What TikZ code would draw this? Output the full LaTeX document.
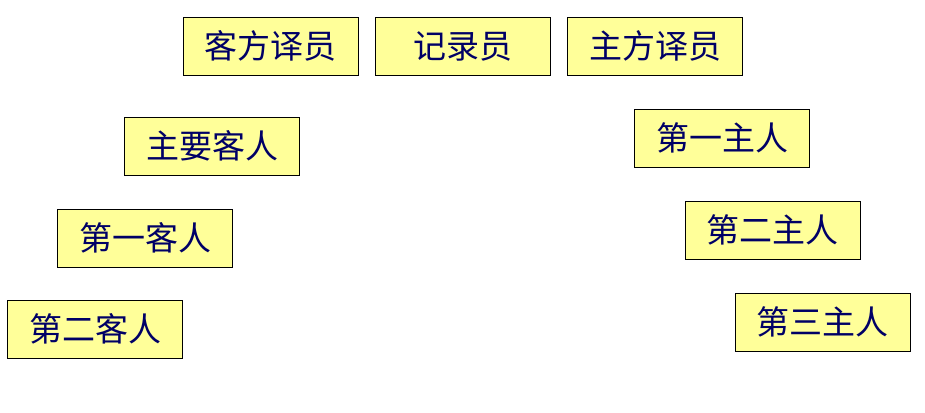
\documentclass[tikz,border=0pt]{standalone}
\usepackage{fontspec}
\newfontfamily\cjk{Noto Sans CJK SC}
\definecolor{boxfill}{HTML}{FFFF99}
\definecolor{navy}{HTML}{000066}
\begin{document}
\begin{tikzpicture}[x=1pt,y=-1pt,
  role/.style={draw=black,line width=0.9pt,fill=boxfill,minimum width=175pt,minimum height=58pt,inner sep=0pt,text=navy,font=\cjk\fontsize{33pt}{33pt}\selectfont}]
\useasboundingbox (0,0) rectangle (925,412);
\node[role] (kfyy) at (270.5,46) {客方译员};
\node[role] (jly) at (463,46) {记录员};
\node[role] (zfyy) at (655,46) {主方译员};
\node[role] (zykr) at (212,146) {主要客人};
\node[role] (dykr) at (145,238) {第一客人};
\node[role] (dekr) at (95,329) {第二客人};
\node[role] (dyzr) at (722,138) {第一主人};
\node[role] (dezr) at (772.5,230) {第二主人};
\node[role] (dszr) at (822.5,322) {第三主人};
\end{tikzpicture}
\end{document}
